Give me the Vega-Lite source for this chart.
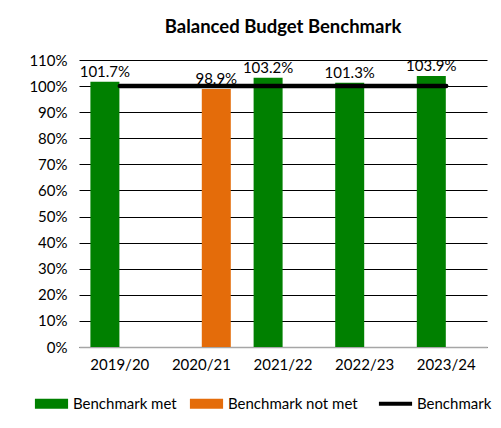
{
  "$schema": "https://vega.github.io/schema/vega-lite/v6.json",
  "autosize": "none",
  "width": 408,
  "height": 287,
  "padding": {"left": 79, "top": 60, "right": 14, "bottom": 81},
  "background": "white",
  "title": {
    "text": "Balanced Budget Benchmark",
    "font": "Lato",
    "fontSize": 18.5,
    "fontWeight": "bold",
    "color": "#000000",
    "anchor": "middle",
    "offset": 17
  },
  "data": {
    "values": [
      {"year": "2019/20", "value": 1.017, "status": "Benchmark met", "benchmark": 1.0},
      {"year": "2020/21", "value": 0.989, "status": "Benchmark not met", "benchmark": 1.0},
      {"year": "2021/22", "value": 1.032, "status": "Benchmark met", "benchmark": 1.0},
      {"year": "2022/23", "value": 1.013, "status": "Benchmark met", "benchmark": 1.0},
      {"year": "2023/24", "value": 1.039, "status": "Benchmark met", "benchmark": 1.0}
    ]
  },
  "encoding": {
    "x": {
      "field": "year",
      "type": "nominal",
      "sort": null,
      "scale": {"paddingInner": 0.27, "paddingOuter": 0.135},
      "axis": {
        "title": null,
        "labelAngle": 0,
        "labelFont": "Lato",
        "labelFontSize": 15,
        "labelColor": "#000000",
        "labelPadding": 10,
        "ticks": false,
        "domainColor": "#a6a6a6",
        "domainWidth": 1.5,
        "grid": false
      }
    },
    "y": {
      "field": "value",
      "type": "quantitative",
      "scale": {"domain": [0, 1.1], "nice": false},
      "axis": {
        "title": null,
        "format": ".0%",
        "values": [0, 0.1, 0.2, 0.3, 0.4, 0.5, 0.6, 0.7, 0.8, 0.9, 1.0, 1.1],
        "labelOverlap": false,
        "labelFont": "Lato",
        "labelFontSize": 15,
        "labelColor": "#000000",
        "labelPadding": 12,
        "ticks": false,
        "domain": false,
        "grid": true,
        "gridColor": "#000000",
        "gridWidth": 1.2
      }
    }
  },
  "layer": [
    {
      "mark": {"type": "bar", "size": 29},
      "encoding": {
        "xOffset": {"field": "status", "type": "nominal", "scale": {"domain": ["Benchmark met", "Benchmark not met"]}},
        "color": {
          "field": "status",
          "type": "nominal",
          "scale": {
            "domain": ["Benchmark met", "Benchmark not met", "Benchmark"],
            "range": ["#008000", "#E46C0A", "#000000"]
          },
          "legend": {
            "title": null,
            "orient": "none",
            "legendX": -35,
            "legendY": 336,
            "direction": "horizontal",
            "labelFont": "Lato",
            "labelFontSize": 15,
            "labelColor": "#000000",
            "symbolSize": 1100,
            "columnPadding": 12,
            "labelOffset": 14,
            "encode": {
              "symbols": {
                "update": {
                  "shape": {"signal": "datum.value === 'Benchmark' ? 'M-1,0H1' : 'M-1,-0.3H1V0.3H-1Z'"},
                  "strokeWidth": {"signal": "datum.value === 'Benchmark' ? 4 : 0"},
                  "stroke": {"signal": "datum.value === 'Benchmark' ? '#000000' : null"},
                  "fillOpacity": {"value": 1}
                }
              }
            }
          }
        }
      }
    },
    {
      "mark": {"type": "line", "color": "#000000", "strokeWidth": 4.5, "strokeCap": "round"},
      "encoding": {
        "y": {"field": "benchmark", "type": "quantitative"}
      }
    },
    {
      "mark": {"type": "text", "baseline": "bottom", "dy": -2, "font": "Lato", "fontSize": 15, "color": "#000000"},
      "encoding": {
        "xOffset": {"field": "status", "type": "nominal"},
        "text": {"field": "value", "type": "quantitative", "format": ".1%"}
      }
    }
  ],
  "config": {
    "view": {"stroke": null}
  }
}
